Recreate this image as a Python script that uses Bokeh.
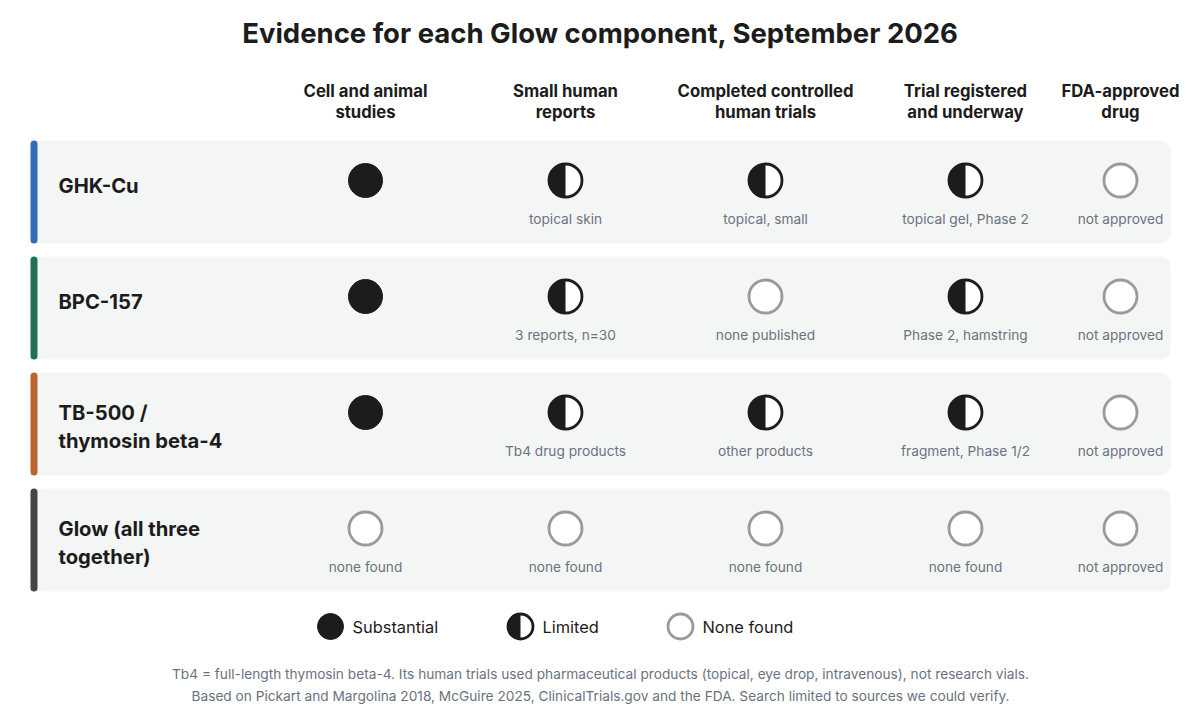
import math

from bokeh.core.properties import value
from bokeh.embed import file_html
from bokeh.models import ColumnDataSource, Range1d
from bokeh.plotting import figure
from bokeh.resources import INLINE

# --- data -------------------------------------------------------------
title = "Evidence for each Glow component, September 2026"
stages = [
    "Cell and animal\nstudies",
    "Small human\nreports",
    "Completed controlled\nhuman trials",
    "Trial registered\nand underway",
    "FDA-approved\ndrug",
]
components = [
    "GHK-Cu",
    "BPC-157",
    "TB-500 /\nthymosin beta-4",
    "Glow (all three\ntogether)",
]
component_colors = ["#2f6db8", "#22705a", "#b9662e", "#444444"]
levels = [
    ["Substantial", "Limited", "Limited", "Limited", "None found"],
    ["Substantial", "Limited", "None found", "Limited", "None found"],
    ["Substantial", "Limited", "Limited", "Limited", "None found"],
    ["None found", "None found", "None found", "None found", "None found"],
]
notes = [
    ["", "topical skin", "topical, small", "topical gel, Phase 2", "not approved"],
    ["", "3 reports, n=30", "none published", "Phase 2, hamstring", "not approved"],
    ["", "Tb4 drug products", "other products", "fragment, Phase 1/2", "not approved"],
    ["none found", "none found", "none found", "none found", "not approved"],
]
legend_levels = ["Substantial", "Limited", "None found"]
footnote = [
    "Tb4 = full-length thymosin beta-4. Its human trials used pharmaceutical "
    "products (topical, eye drop, intravenous), not research vials.",
    "Based on Pickart and Margolina 2018, McGuire 2025, ClinicalTrials.gov "
    "and the FDA. Search limited to sources we could verify.",
]

# --- layout -----------------------------------------------------------
W, H = 1184, 706
FONT = value("Inter")
INK = "#1c1c1c"
GREY_TEXT = "#6b7280"
PANEL = "#f4f6f5"
col_x = [365, 565, 765, 965, 1120]
row_top0, row_h, row_gap = 140, 103, 13
row_tops = [row_top0 + i * (row_h + row_gap) for i in range(len(components))]

p = figure(
    width=W,
    height=H,
    x_range=Range1d(0, W),
    y_range=Range1d(H, 0),
    output_backend="svg",
    toolbar_location=None,
    min_border=0,
    outline_line_color=None,
    background_fill_color="white",
)
p.axis.visible = False
p.grid.visible = False

# row panels + accent bars
p.quad(
    left=30,
    right=1170,
    top=row_tops,
    bottom=[t + row_h for t in row_tops],
    fill_color=PANEL,
    line_color=None,
    border_radius=10,
)
p.quad(
    left=30,
    right=37,
    top=row_tops,
    bottom=[t + row_h for t in row_tops],
    fill_color=component_colors,
    line_color=None,
    border_radius=4,
)

# title and column headers
p.text(
    x=[600], y=[32], text=[title], text_font=FONT, text_font_style="bold",
    text_font_size="27.5px", text_color=INK, text_align="center",
    text_baseline="middle",
)
p.text(
    x=col_x, y=[101] * len(stages), text=stages, text_font=FONT,
    text_font_style="bold", text_font_size="16.7px", text_color=INK,
    text_align="center", text_baseline="middle", text_line_height=1.08,
)

# row labels
label_y = [t + 45 + 9 * s.count("\n") for t, s in zip(row_tops, components)]
p.text(
    x=[58] * len(components), y=label_y, text=components, text_font=FONT,
    text_font_style="bold", text_font_size="20.2px", text_color=INK,
    text_align="left", text_baseline="middle", text_line_height=1.15,
)

# cells
cells = {"x": [], "y": [], "level": [], "note": [], "ny": []}
for i, top in enumerate(row_tops):
    for j, cx in enumerate(col_x):
        cells["x"].append(cx)
        cells["y"].append(top + 40)
        cells["level"].append(levels[i][j])
        cells["note"].append(notes[i][j])
        cells["ny"].append(top + 78.5)


def draw_symbols(xs, ys, lvls, size):
    r = size / 2
    for lvl in legend_levels:
        sx = [x for x, l in zip(xs, lvls) if l == lvl]
        sy = [y for y, l in zip(ys, lvls) if l == lvl]
        if not sx:
            continue
        if lvl == "Substantial":
            p.scatter(sx, sy, size=size, marker="circle", fill_color=INK,
                      line_color=INK, line_width=1)
        elif lvl == "Limited":
            p.scatter(sx, sy, size=size - 1, marker="circle",
                      fill_color="white", line_color=INK, line_width=2.8)
            p.wedge(sx, sy, radius=r - 0.5, radius_units="screen",
                    start_angle=math.pi / 2, end_angle=3 * math.pi / 2,
                    fill_color=INK, line_color=None)
        else:
            p.scatter(sx, sy, size=size - 1, marker="circle",
                      fill_color="white", line_color="#9a9a9a", line_width=2.8)


draw_symbols(cells["x"], cells["y"], cells["level"], 34)

p.text(
    x="x", y="ny", text="note", source=ColumnDataSource(cells), text_font=FONT,
    text_font_size="13.7px", text_color=GREY_TEXT, text_align="center",
    text_baseline="middle",
)

# legend
leg_x = [330, 520, 680]
draw_symbols(leg_x, [626] * 3, legend_levels, 26)
p.text(
    x=[x + 22 for x in leg_x], y=[626] * 3, text=legend_levels, text_font=FONT,
    text_font_size="16.4px", text_color=INK, text_align="left",
    text_baseline="middle",
)

# footnote
p.text(
    x=[600] * 2, y=[673, 695], text=footnote, text_font=FONT,
    text_font_size="13.7px", text_color=GREY_TEXT, text_align="center",
    text_baseline="middle",
)

open("out.html", "w").write(file_html(p, INLINE))
